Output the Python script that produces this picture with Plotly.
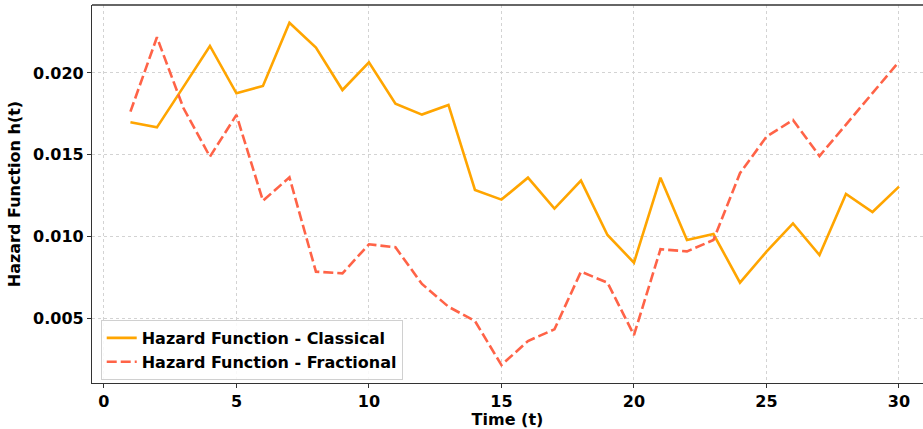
import plotly.graph_objects as go

t = list(range(1, 31))
classical = [0.01699, 0.01668, 0.01915, 0.02165, 0.01876, 0.01921, 0.02307, 0.02155, 0.01896, 0.02065,
             0.01813, 0.01746, 0.01805, 0.01286, 0.01227, 0.01361, 0.01172, 0.01343, 0.01011, 0.00842,
             0.01361, 0.00980, 0.01017, 0.00720, 0.00909, 0.01082, 0.00889, 0.01261, 0.01151, 0.01306]
fractional = [0.01764, 0.02218, 0.01786, 0.01489, 0.01744, 0.01220, 0.01363, 0.00787, 0.00777, 0.00954,
              0.00936, 0.00712, 0.00573, 0.00486, 0.00217, 0.00364, 0.00435, 0.00787, 0.00720, 0.00400,
              0.00924, 0.00911, 0.00980, 0.01388, 0.01611, 0.01713, 0.01493, 0.01687, 0.01882, 0.02069]
x_ticks = [0, 5, 10, 15, 20, 25, 30]
y_ticks = [0.005, 0.010, 0.015, 0.020]
y_tick_labels = ["0.005", "0.010", "0.015", "0.020"]

FONT = "DejaVu Sans"
FS = 16

fig = go.Figure()
fig.add_trace(go.Scatter(x=t, y=classical, mode="lines", name="Hazard Function - Classical",
                         line=dict(color="#FFA500", width=2.6)))
fig.add_trace(go.Scatter(x=t, y=fractional, mode="lines", name="Hazard Function - Fractional",
                         line=dict(color="#FF6347", width=2.6, dash="10px,4px")))

axis_common = dict(
    showline=True, linecolor="#333333", linewidth=1.3, mirror=False,
    ticks="outside", ticklen=4, tickwidth=1.3, tickcolor="#333333",
    showgrid=True, gridcolor="#d3d3d3", gridwidth=1, griddash="dot",
    zeroline=False, automargin=False,
    tickfont=dict(family=FONT, size=FS, color="black", weight="bold"),
)

fig.update_layout(
    width=923, height=429,
    margin=dict(l=92, r=0, t=5, b=46),
    plot_bgcolor="white", paper_bgcolor="white",
    font=dict(family=FONT, size=FS, color="black"),
    xaxis=dict(range=[-0.45, 30.906], tickvals=x_ticks,
               title=dict(text="Time (t)", font=dict(family=FONT, size=FS, weight="bold"), standoff=8),
               **axis_common),
    yaxis=dict(range=[0.001075, 0.02415], tickvals=y_ticks, ticktext=y_tick_labels,
               title=dict(text="Hazard Function h(t)", font=dict(family=FONT, size=FS, weight="bold"), standoff=8),
               **axis_common),
    legend=dict(x=0.0105, y=0.008, xanchor="left", yanchor="bottom",
                bgcolor="rgba(255,255,255,0.85)", bordercolor="#d0d0d0", borderwidth=1,
                font=dict(family=FONT, size=FS, weight="bold"), tracegroupgap=0),
    showlegend=True,
)
# top spine
fig.add_shape(type="line", xref="paper", yref="paper", x0=0, x1=1, y0=1, y1=1,
              line=dict(color="#333333", width=1.3))

fig.write_html("out.html")
